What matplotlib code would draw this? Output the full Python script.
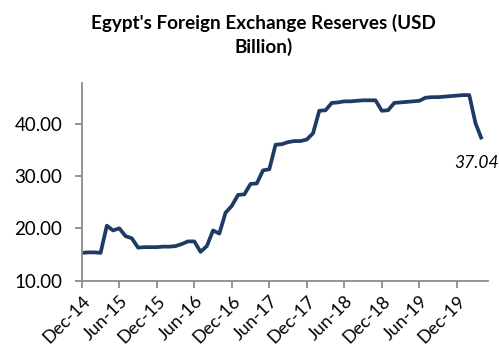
import matplotlib
matplotlib.use('Agg')
import matplotlib.pyplot as plt

plt.rcParams['font.family'] = ['Lato', 'DejaVu Sans']

# monthly reserves, Dec-14 .. Apr-20 (USD bn)
reserves = [15.3, 15.4, 15.4, 15.3, 20.5, 19.6, 20.0, 18.5, 18.1, 16.3,
            16.4, 16.4, 16.4, 16.5, 16.5, 16.6, 17.0, 17.5, 17.5, 15.5,
            16.6, 19.6, 19.0, 23.0, 24.3, 26.4, 26.5, 28.5, 28.6, 31.1,
            31.3, 36.0, 36.1, 36.5, 36.7, 36.7, 37.0, 38.2, 42.5, 42.6,
            44.0, 44.1, 44.3, 44.3, 44.4, 44.5, 44.5, 44.5, 42.5, 42.6,
            44.0, 44.1, 44.2, 44.3, 44.4, 45.0, 45.1, 45.1, 45.2, 45.3,
            45.4, 45.5, 45.5, 40.1, 37.04]
tick_labels = ['Dec-14', 'Jun-15', 'Dec-15', 'Jun-16', 'Dec-16', 'Jun-17',
               'Dec-17', 'Jun-18', 'Dec-18', 'Jun-19', 'Dec-19']
last_label = '37.04'

fig = plt.figure(figsize=(4.99, 3.49), dpi=100)
ax = fig.add_axes([0.164, 0.196, 0.814, 0.566])

ax.plot(range(len(reserves)), reserves, color='#1f3b63', lw=2.7,
        solid_joinstyle='round', solid_capstyle='butt')

ax.set_xlim(0, 65)
ax.set_ylim(10, 47.8)
ax.set_yticks([10, 20, 30, 40])
ax.set_yticklabels(['%.2f' % v for v in [10, 20, 30, 40]], fontsize=13.5)
ax.set_xticks(range(0, 61, 6))
ax.set_xticklabels(tick_labels, rotation=45, ha='right', rotation_mode='anchor',
                   fontsize=13)

for s in ['top', 'right']:
    ax.spines[s].set_visible(False)
for s in ['left', 'bottom']:
    ax.spines[s].set_color('#8c8c8c')
    ax.spines[s].set_linewidth(1.3)
ax.tick_params(axis='both', colors='#8c8c8c', length=5, width=1.3,
               labelcolor='black')
ax.tick_params(axis='y', pad=9)
ax.tick_params(axis='x', pad=4)

ax.annotate(last_label, xy=(len(reserves) - 1, reserves[-1]), xytext=(-4, -17),
            textcoords='offset points', ha='center', va='center',
            fontsize=12.5, style='italic')

fig.text(0.528, 0.9, "Egypt's Foreign Exchange Reserves (USD\nBillion)",
         ha='center', va='center', fontsize=13.6, fontweight='bold',
         linespacing=1.38)

fig.savefig('out.png', dpi=100)
